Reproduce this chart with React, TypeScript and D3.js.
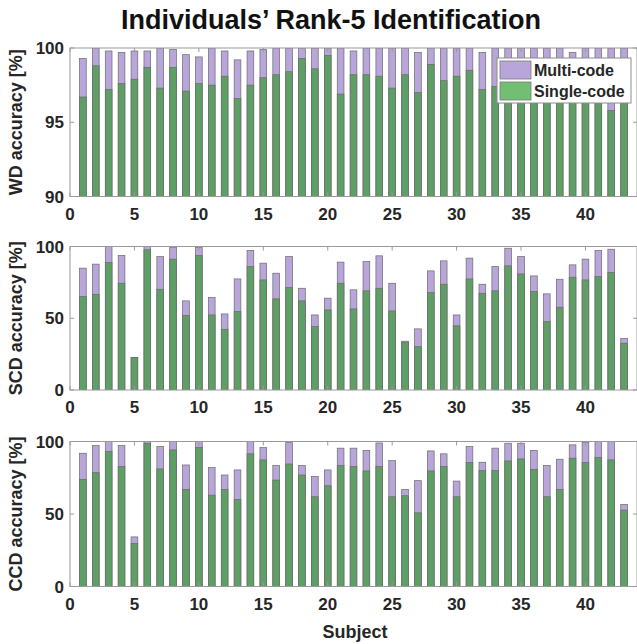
import React from "react";
import * as d3 from "d3";

// Subjects 1..43
const subjects = d3.range(1, 44);

// WD accuracy [%]
const wdSingle = [96.7, 98.8, 97.2, 97.6, 97.9, 98.7, 97.3, 98.7, 97.1, 97.6, 97.5, 98.1, 96.6, 97.5, 98.0, 98.2, 98.4, 99.3, 98.6, 99.5, 96.9, 98.2, 98.2, 98.1, 97.3, 98.2, 97.0, 98.9, 97.8, 98.1, 98.5, 97.2, 97.4, 97.8, 98.5, 97.6, 98.2, 97.0, 98.6, 98.0, 98.3, 95.8, 97.5];
const wdMulti = [99.3, 100, 99.8, 99.7, 99.8, 99.8, 100, 99.9, 99.55, 99.4, 100, 99.8, 99.2, 99.8, 99.9, 100, 100, 100, 100, 100, 100, 99.8, 100, 100, 100, 100, 99.7, 100, 100, 100, 100, 99.7, 100, 100, 100, 100, 100, 100, 99.7, 100, 100, 100, 100];

// SCD accuracy [%]
const scdSingle = [65.1, 66.7, 88.8, 74.4, 22.6, 97.7, 70.2, 91.2, 51.9, 93.7, 52.3, 42.3, 54.7, 86.0, 76.7, 63.5, 71.4, 62.1, 44.2, 55.8, 74.4, 56.5, 69.1, 70.9, 55.1, 33.3, 30.2, 67.9, 73.7, 44.7, 77.4, 67.4, 69.1, 86.5, 80.9, 68.6, 47.7, 57.7, 78.6, 76.7, 79.1, 81.9, 32.6];
const scdMulti = [84.9, 87.7, 100, 93.7, 22.6, 100, 93.0, 99.5, 62.1, 99.3, 64.4, 53.0, 77.4, 97.2, 88.4, 81.4, 93.0, 70.9, 52.3, 64.0, 89.1, 69.8, 89.5, 93.5, 74.4, 34.0, 42.6, 83.0, 90.0, 52.3, 91.9, 73.7, 86.0, 98.8, 93.0, 79.5, 67.0, 77.2, 87.2, 91.2, 97.2, 98.1, 36.0];

// CCD accuracy [%]
const ccdSingle = [73.9, 78.5, 93.1, 82.7, 29.6, 98.8, 81.1, 94.2, 67.0, 95.8, 63.0, 67.0, 60.0, 91.5, 87.3, 73.4, 84.5, 76.9, 61.9, 69.5, 83.4, 82.7, 79.7, 82.7, 61.9, 62.6, 50.8, 79.7, 82.7, 61.9, 85.5, 79.9, 79.9, 86.6, 88.0, 80.8, 61.9, 67.0, 88.5, 85.5, 89.1, 87.3, 52.7];
const ccdMulti = [91.9, 97.2, 100, 97.2, 34.2, 100, 96.5, 100, 83.8, 100, 82.0, 76.9, 80.4, 100, 95.8, 83.4, 99.3, 83.4, 75.8, 80.4, 95.4, 95.4, 93.8, 99.0, 86.8, 67.0, 73.0, 93.5, 91.5, 72.7, 96.5, 85.7, 95.4, 98.8, 98.8, 93.8, 83.4, 87.8, 97.7, 99.3, 100, 100, 56.6];

const xTicks = [0, 5, 10, 15, 20, 25, 30, 35, 40];
const legendLabels = ["Multi-code", "Single-code"];

const FONT = "'Liberation Sans', Arial, sans-serif";
const TXT = "#262626";
const AXIS = "#9a9a9a";
const PURPLE = "#b8a6db";
const GREEN = "#5e9f66";
const GREEN_LEGEND = "#72bf73";
const EDGE = "#6a6a6a";

const W = 637;
const H = 644;
const x = d3.scaleLinear().domain([0, 44]).range([70, 637]);
const barW = x(0.52) - x(0);

type PanelProps = {
  single: number[];
  multi: number[];
  domain: [number, number];
  top: number;
  bottom: number;
  yTicks: number[];
  label: string;
  legend?: boolean;
};

function Panel({ single, multi, domain, top, bottom, yTicks, label, legend }: PanelProps) {
  const y = d3.scaleLinear().domain(domain).range([bottom, top]);
  const base = y(domain[0]);
  const clipId = `clip-${label.split(" ")[0]}`;
  const x0 = x(0);
  const x1 = x(44);
  return (
    <g>
      <defs>
        <clipPath id={clipId}>
          <rect x={x0} y={top} width={x1 - x0} height={bottom - top} />
        </clipPath>
      </defs>
      <rect x={x0} y={top} width={x1 - x0} height={bottom - top} fill="#fff" />
      <g clipPath={`url(#${clipId})`}>
        {subjects.map((s, i) => (
          <g key={s}>
            <rect
              x={x(s) - barW / 2}
              y={y(multi[i])}
              width={barW}
              height={base - y(multi[i])}
              fill={PURPLE}
              stroke={EDGE}
              strokeWidth={0.7}
            />
            <rect
              x={x(s) - barW / 2}
              y={y(single[i])}
              width={barW}
              height={base - y(single[i])}
              fill={GREEN}
              stroke={EDGE}
              strokeWidth={0.7}
            />
          </g>
        ))}
      </g>
      {/* axes box */}
      <rect x={x0} y={top} width={x1 - x0} height={bottom - top} fill="none" stroke={AXIS} strokeWidth={1} />
      {xTicks.map((t) => (
        <g key={t}>
          <line x1={x(t)} x2={x(t)} y1={bottom} y2={bottom - 4} stroke={AXIS} />
          <line x1={x(t)} x2={x(t)} y1={top} y2={top + 4} stroke={AXIS} />
          <text x={x(t)} y={bottom + 23} textAnchor="middle" fontFamily={FONT} fontWeight="bold" fontSize={17} fill={TXT}>
            {t}
          </text>
        </g>
      ))}
      {yTicks.map((t) => (
        <g key={t}>
          <line x1={x0} x2={x0 + 4} y1={y(t)} y2={y(t)} stroke={AXIS} />
          <line x1={x1} x2={x1 - 4} y1={y(t)} y2={y(t)} stroke={AXIS} />
          <text x={x0 - 6} y={y(t)} dy="0.36em" textAnchor="end" fontFamily={FONT} fontWeight="bold" fontSize={17} fill={TXT}>
            {t}
          </text>
        </g>
      ))}
      <text
        transform={`translate(22,${(top + bottom) / 2}) rotate(-90)`}
        textAnchor="middle"
        fontFamily={FONT}
        fontWeight="bold"
        fontSize={18}
        fill={TXT}
      >
        {label}
      </text>
      {legend && (
        <g>
          <rect x={497} y={58} width={134} height={45} fill="#fff" stroke="#8c8c8c" strokeWidth={1} />
          {legendLabels.map((l, i) => (
            <g key={l}>
              <rect x={500} y={61} width={31} height={18} transform={`translate(0,${i * 21})`} fill={i === 0 ? PURPLE : GREEN_LEGEND} stroke="#7a7a7a" strokeWidth={0.8} />
              <text x={534} y={70 + i * 21} dy="0.36em" fontFamily={FONT} fontWeight="bold" fontSize={16} fill={TXT}>
                {l}
              </text>
            </g>
          ))}
        </g>
      )}
    </g>
  );
}

export default function App() {
  return (
    <svg width={W} height={H} viewBox={`0 0 ${W} ${H}`} style={{ display: "block", position: "absolute", left: 0, top: 0, background: "#fff" }}>
      <rect width={W} height={H} fill="#fff" />
      <text x={331} y={29} textAnchor="middle" fontFamily={FONT} fontWeight="bold" fontSize={27} fill="#111">
        Individuals’ Rank-5 Identification
      </text>
      <Panel single={wdSingle} multi={wdMulti} domain={[90, 100]} top={48} bottom={196.5} yTicks={[90, 95, 100]} label="WD accuracy [%]" legend />
      <Panel single={scdSingle} multi={scdMulti} domain={[0, 100]} top={246.5} bottom={390} yTicks={[0, 50, 100]} label="SCD accuracy [%]" />
      <Panel single={ccdSingle} multi={ccdMulti} domain={[0, 100]} top={441.5} bottom={586.5} yTicks={[0, 50, 100]} label="CCD accuracy [%]" />
      <text x={355} y={638} textAnchor="middle" fontFamily={FONT} fontWeight="bold" fontSize={18} fill={TXT}>
        Subject
      </text>
    </svg>
  );
}
